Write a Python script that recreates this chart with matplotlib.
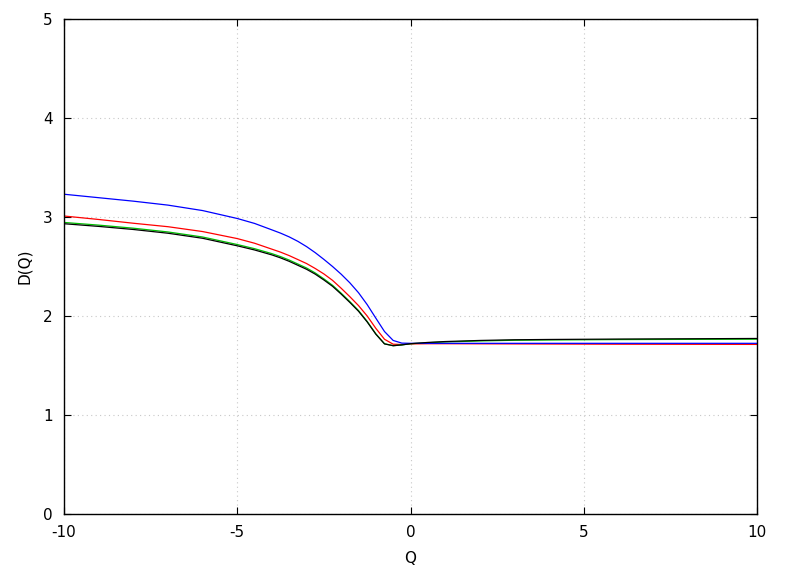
import numpy as np
import matplotlib
matplotlib.use('Agg')
import matplotlib.pyplot as plt

# values
q = [-10, -9, -8, -7, -6, -5, -4.5, -4, -3.75, -3.5, -3.25, -3, -2.75, -2.5, -2.25,
     -2, -1.75, -1.5, -1.25, -1, -0.75, -0.5, -0.25, 0, 0.5, 1, 2, 3, 4, 6, 8, 10]

d_red = [3.01, 2.975, 2.937, 2.902, 2.853, 2.782, 2.735, 2.675, 2.645, 2.61, 2.57,
         2.53, 2.48, 2.425, 2.36, 2.28, 2.195, 2.105, 2.0, 1.875, 1.765, 1.715,
         1.712, 1.718, 1.72, 1.72, 1.719, 1.718, 1.717, 1.715, 1.714, 1.713]
d_green = [2.945, 2.918, 2.887, 2.849, 2.798, 2.722, 2.68, 2.63, 2.60, 2.565, 2.525,
           2.485, 2.435, 2.375, 2.31, 2.23, 2.145, 2.055, 1.945, 1.82, 1.72, 1.70,
           1.708, 1.72, 1.73, 1.738, 1.748, 1.755, 1.758, 1.762, 1.764, 1.766]
d_blue = [3.23, 3.195, 3.16, 3.12, 3.065, 2.985, 2.935, 2.87, 2.837, 2.799, 2.754,
          2.701, 2.640, 2.572, 2.500, 2.422, 2.335, 2.235, 2.115, 1.978, 1.843, 1.753,
          1.726, 1.724, 1.724, 1.724, 1.724, 1.724, 1.724, 1.724, 1.724, 1.724]
d_black = [2.932, 2.905, 2.874, 2.836, 2.785, 2.709, 2.667, 2.617, 2.587, 2.552, 2.512,
           2.472, 2.423, 2.364, 2.3, 2.221, 2.137, 2.048, 1.94, 1.816, 1.718, 1.70,
           1.708, 1.72, 1.733, 1.742, 1.753, 1.76, 1.763, 1.767, 1.77, 1.773]

xticks = [-10, -5, 0, 5, 10]
yticks = [0, 1, 2, 3, 4, 5]

fig = plt.figure(figsize=(7.88, 5.76), dpi=100)
ax = fig.add_axes([64/788, 62/576, 693/788, 495/576])

for ys, c in [(d_red, 'red'), (d_green, '#00c000'), (d_blue, 'blue'), (d_black, 'black')]:
    ax.plot(q, ys, color=c, lw=0.9)

ax.set_xlim(-10, 10)
ax.set_ylim(0, 5)
ax.set_xticks(xticks)
ax.set_yticks(yticks)
ax.set_xticklabels([str(t) for t in xticks])
ax.set_yticklabels([str(t) for t in yticks])
ax.tick_params(direction='in', top=True, right=True, labelsize=11, length=5, pad=8)
ax.grid(True, color='#c8c8c8', linestyle=(0, (1, 3)), lw=0.8)
for s in ax.spines.values():
    s.set_linewidth(1.0)

ax.set_xlabel('Q', fontsize=11, labelpad=8)
ax.set_ylabel('D(Q)', fontsize=11, labelpad=8)

fig.savefig('out.png', dpi=100)
